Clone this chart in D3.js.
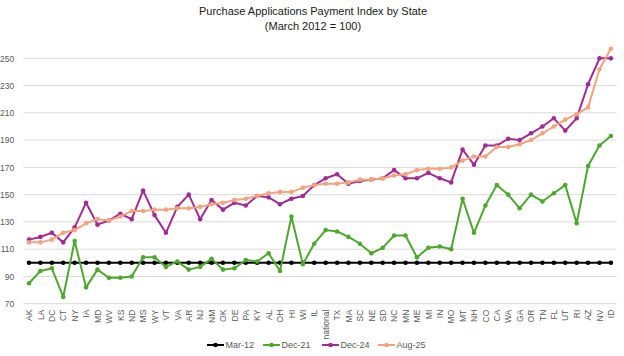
<!DOCTYPE html>
<html>
<head>
<meta charset="utf-8">
<script src="https://cdn.jsdelivr.net/npm/d3@7"></script>
<style>
  html, body { margin: 0; padding: 0; background: #ffffff; }
  svg { display: block; font-family: "Liberation Sans", Arial, sans-serif; }
</style>
</head>
<body>
<svg id="chart" width="624" height="356"></svg>
<script>
const states = ["AK","LA","DC","CT","NY","IA","MD","WV","KS","ND","MS","WY","VT","VA","AR","NJ","NM","OK","DE","PA","KY","AL","OH","HI","WI","IL","national","TX","MA","SC","NE","SD","NC","MN","ME","MI","IN","MO","MT","NH","CO","CA","WA","GA","OR","TN","FL","UT","RI","AZ","NV","ID"];

const mar12 = states.map(() => 100);
const dec21 = [85,94,96,75,116,82,95,89,89,90,104,104,97,101,95,97,103,95,96,102,101,107,94,134,99,114,124,123,119,114,107,111,120,120,104,111,112,110,147,122,142,157,150,140,150,145,151,157,129,171,186,193];
const dec24 = [117,119,122,115,126,144,128,131,136,132,153,135,122,141,150,132,146,139,144,142,149,148,143,147,149,157,162,165,158,160,161,162,168,162,162,166,162,159,183,172,186,186,191,190,195,200,206,197,206,231,250,250];
const aug25 = [115,115,117,122,124,129,132,131,134,138,138,139,139,140,140,141,143,144,146,147,149,151,152,152,155,157,158,158,159,161,161,162,164,165,168,169,169,170,175,178,178,185,185,187,190,195,200,205,209,214,242,257];

const seriesNames = ["Mar-12","Dec-21","Dec-24","Aug-25"];
const seriesColors = ["#000000","#4EA72E","#A02B93","#F2A47C"];
const yTicks = [70,90,110,130,150,170,190,210,230,250];

(function () {
const series = [mar12, dec21, dec24, aug25].map((vals, i) => ({
  name: seriesNames[i], color: seriesColors[i],
  values: vals.map((v, j) => ({ state: states[j], v }))
}));

const svg = d3.select("#chart");
const pLeft = 23.3, pRight = 616.6, pTop = 44.7, pBottom = 303.7;

const x = d3.scalePoint().domain(states).range([pLeft, pRight]).padding(0.5);
const y = d3.scaleLinear().domain([70, 260]).range([pBottom, pTop]);

// Title
svg.append("text").attr("x", 313).attr("y", 15).attr("text-anchor", "middle")
  .attr("font-size", 11).attr("fill", "#1a1a1a")
  .text("Purchase Applications Payment Index by State");
svg.append("text").attr("x", 313).attr("y", 30).attr("text-anchor", "middle")
  .attr("font-size", 11).attr("fill", "#1a1a1a")
  .text("(March 2012 = 100)");

// Gridlines
svg.append("g").selectAll("line").data(yTicks).join("line")
  .attr("x1", pLeft).attr("x2", pRight)
  .attr("y1", d => y(d)).attr("y2", d => y(d))
  .attr("stroke", "#d9d9d9").attr("stroke-width", 1);

// Y axis
const yAxis = d3.axisLeft(y).tickValues(yTicks).tickSize(0).tickPadding(0);
const gy = svg.append("g").attr("transform", `translate(${pLeft - 9},0)`).call(yAxis);
gy.select(".domain").remove();
gy.selectAll("text").attr("font-size", 8.5).attr("fill", "#595959")
  .attr("font-family", "Liberation Sans, Arial, sans-serif");

// X axis
const xAxis = d3.axisBottom(x).tickSize(0).tickPadding(0);
const gx = svg.append("g").attr("transform", `translate(0,${pBottom})`).call(xAxis);
gx.select(".domain").remove();
gx.selectAll("text")
  .attr("font-size", 8.5).attr("fill", "#595959")
  .attr("font-family", "Liberation Sans, Arial, sans-serif")
  .attr("text-anchor", "end")
  .attr("transform", "translate(0,6) rotate(-90)")
  .attr("x", 0).attr("y", 0).attr("dy", "0.32em");

// Lines
const line = d3.line().x(d => x(d.state)).y(d => y(d.v));
const gs = svg.append("g").selectAll("g").data(series).join("g");
gs.append("path").attr("d", d => line(d.values))
  .attr("fill", "none").attr("stroke", d => d.color).attr("stroke-width", 2)
  .attr("stroke-linejoin", "round");
gs.selectAll("circle").data(d => d.values.map(p => ({...p, color: d.color}))).join("circle")
  .attr("cx", d => x(d.state)).attr("cy", d => y(d.v)).attr("r", 2.3)
  .attr("fill", d => d.color);

// Legend
const legendX = [207, 263, 322, 378];
const lg = svg.append("g").selectAll("g").data(series).join("g")
  .attr("transform", (d, i) => `translate(${legendX[i]},345)`);
lg.append("line").attr("x1", 0).attr("x2", 17).attr("y1", 0).attr("y2", 0)
  .attr("stroke", d => d.color).attr("stroke-width", 2);
lg.append("circle").attr("cx", 8.5).attr("cy", 0).attr("r", 2.3).attr("fill", d => d.color);
lg.append("text").attr("x", 18.5).attr("y", 0).attr("dy", "0.35em")
  .attr("font-size", 9).attr("fill", "#595959").text(d => d.name);
})();
</script>
</body>
</html>
